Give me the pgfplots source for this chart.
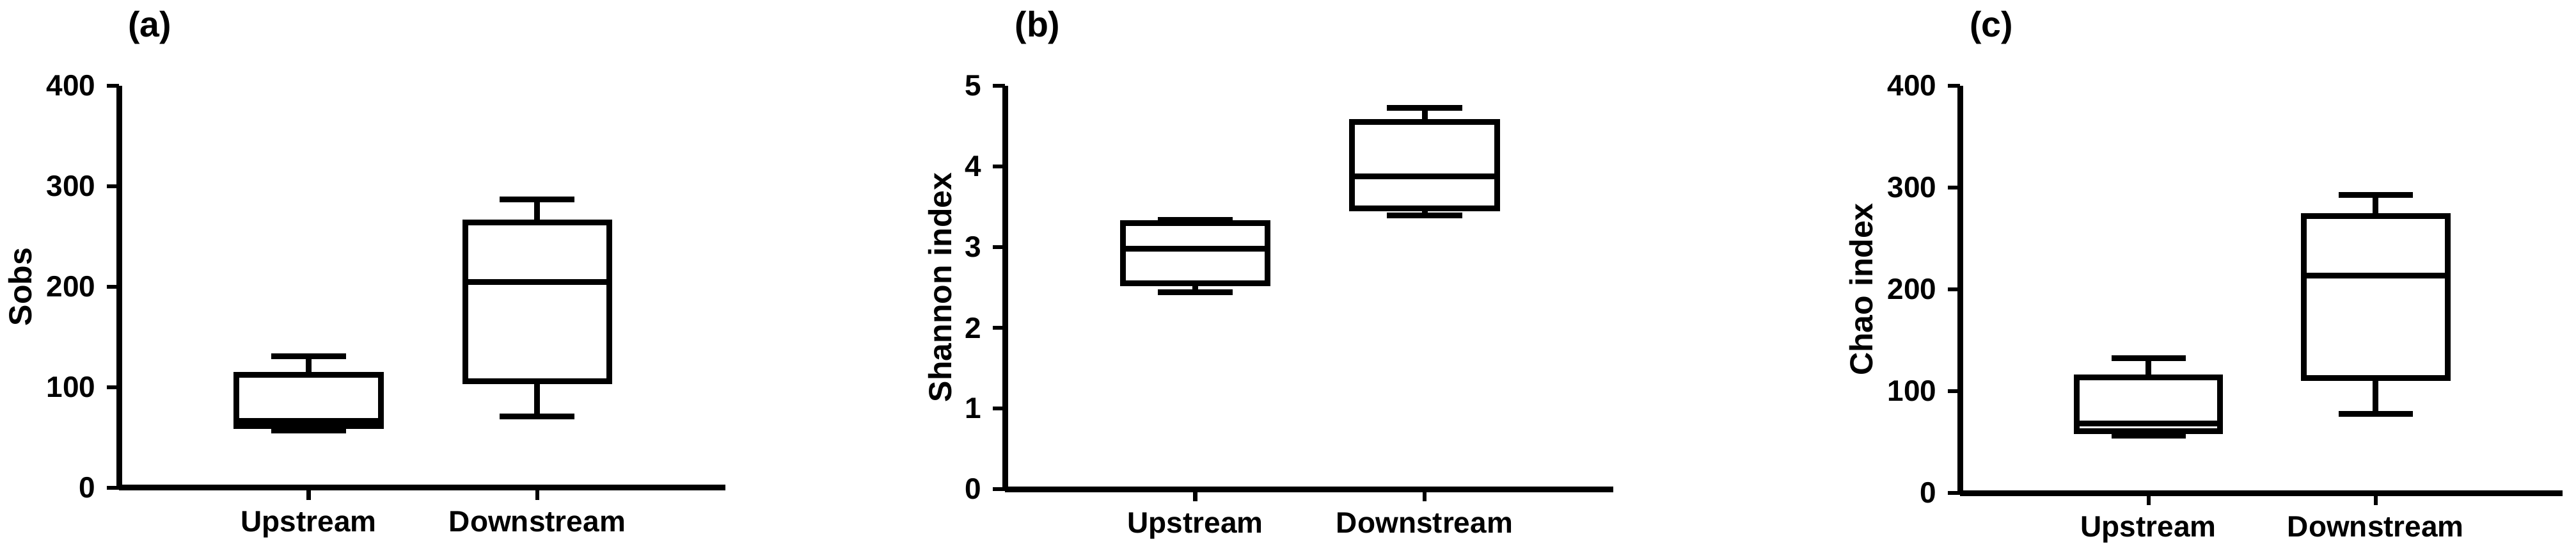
\documentclass[border=0pt]{standalone}
\usepackage{fontspec}
\setmainfont{Liberation Sans}
\usepackage{pgfplots}
\pgfplotsset{compat=1.18}

\pgfplotsset{
  myax/.style={
    scale only axis,
    anchor=south west,
    axis lines=left,
    axis line style={-, line width=1.8pt},
    xmin=0.17, xmax=2.823,
    xtick={1,2}, xticklabels={Upstream,Downstream},
    tick align=outside,
    major tick length=3.8pt,
    tick style={line width=1.3pt, black},
    ticklabel style={font=\fontsize{9.2}{11}\selectfont\bfseries},
    ylabel style={font=\fontsize{10}{12}\selectfont\bfseries, anchor=center},
    clip=false,
  },
  mybox/.style={black, line width=1.8pt, solid, mark=none, line cap=rect, line join=miter},
  mywh/.style={black, line width=1.8pt, solid, mark=none, line cap=butt},
}
% box: #1 position, #2 min, #3 Q1, #4 median, #5 Q3, #6 max
\newcommand{\bx}[6]{%
  \addplot[mybox] coordinates {(#1-0.316,#3) (#1+0.316,#3) (#1+0.316,#5) (#1-0.316,#5) (#1-0.316,#3)};
  \addplot[mywh] coordinates {(#1-0.316,#4) (#1+0.316,#4)};
  \addplot[mywh] coordinates {(#1,#5) (#1,#6)};
  \addplot[mywh] coordinates {(#1-0.1635,#6) (#1+0.1635,#6)};
  \addplot[mywh] coordinates {(#1,#3) (#1,#2)};
  \addplot[mywh] coordinates {(#1-0.1635,#2) (#1+0.1635,#2)};
}

\begin{document}
\begin{tikzpicture}
\path[use as bounding box] (0,0) rectangle (805.4pt,171.2pt);

% (a)
\begin{axis}[myax, at={(37.2pt,18.8pt)}, width=189.6pt, height=125.6pt,
  ymin=0, ymax=400, ytick={0,100,200,300,400}, yticklabels={0,100,200,300,400},
  ylabel={Sobs}, ylabel style={at={(axis description cs:-0.1625,0.5)}}]
\bx{1}{56.7}{61.5}{66.6}{112.7}{131}
\bx{2}{70.7}{106}{205}{264}{287}
\end{axis}

% (b)
\begin{axis}[myax, at={(314.2pt,18.4pt)}, width=190.2pt, height=126pt,
  ymin=0, ymax=5, ytick={0,1,2,3,4,5}, yticklabels={0,1,2,3,4,5},
  ylabel={Shannon index}, ylabel style={at={(axis description cs:-0.107,0.5)}}]
\bx{1}{2.44}{2.55}{2.98}{3.30}{3.34}
\bx{2}{3.39}{3.48}{3.88}{4.55}{4.73}
\end{axis}

% (c)
\begin{axis}[myax, at={(612.8pt,17.2pt)}, width=188.4pt, height=127.2pt,
  ymin=0, ymax=400, ytick={0,100,200,300,400}, yticklabels={0,100,200,300,400},
  ylabel={Chao index}, ylabel style={at={(axis description cs:-0.1635,0.5)}}]
\bx{1}{56}{61}{68}{113.6}{132.3}
\bx{2}{77.5}{112.7}{213.8}{272}{292.6}
\end{axis}

\node[font=\fontsize{11.1}{13}\selectfont\bfseries] at (46.8pt,162.6pt) {(a)};
\node[font=\fontsize{11.1}{13}\selectfont\bfseries] at (324.4pt,162.6pt) {(b)};
\node[font=\fontsize{11.1}{13}\selectfont\bfseries] at (622.6pt,162.6pt) {(c)};
\end{tikzpicture}
\end{document}
